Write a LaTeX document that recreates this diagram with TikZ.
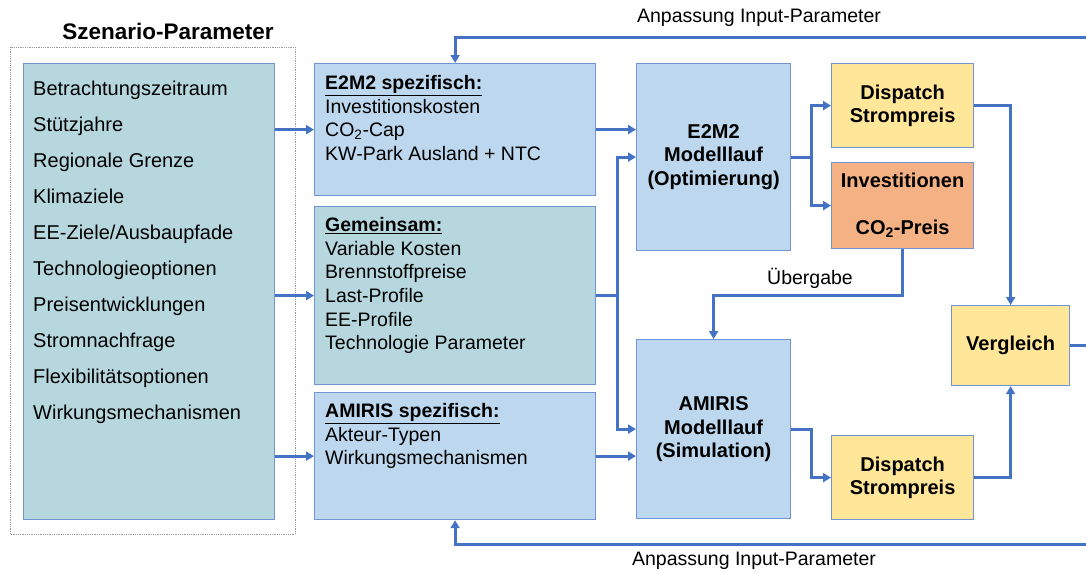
\documentclass[tikz,border=0pt]{standalone}
\usepackage{fontspec}
\setmainfont{Liberation Sans}
\usetikzlibrary{positioning}
\usetikzlibrary{calc}
\usetikzlibrary{arrows.meta}
\definecolor{linkblue}{RGB}{68,114,196}
\definecolor{edgeblue}{RGB}{112,148,212}
\definecolor{tealbox}{RGB}{183,215,222}
\definecolor{bluebox}{RGB}{189,215,238}
\definecolor{yellowbox}{RGB}{255,230,153}
\definecolor{orangebox}{RGB}{244,177,131}

\begin{document}
\begin{tikzpicture}[x=1pt,y=-1pt,>={Triangle[length=8pt,width=9pt]},
		box/.style={draw=edgeblue,line width=1.2pt,anchor=north west,inner sep=0pt},
		runtext/.style={align=center,font=\bfseries\fontsize{20}{23.5}\selectfont},
		listtext/.style={align=left,anchor=north west,inner sep=0pt,font=\fontsize{19.5}{23.7}\selectfont},
		plaintext/.style={inner sep=0pt,font=\fontsize{19.5}{23.5}\selectfont},
		link/.style={draw=linkblue,line width=3pt},
		conn/.style={->,link}]
		\useasboundingbox (0,0) rectangle (1086,573);
		\node[runtext,font=\bfseries\fontsize{22.5}{27}\selectfont] (title) at (168,31) {Szenario-Parameter};
		\draw[gray!80,densely dotted,line width=0.8pt] (10,47) rectangle (295,534);
		\node[box,fill=tealbox,minimum width=251pt,minimum height=456pt] (params) at (23,63) {};
		\node[listtext,font=\fontsize{20}{36}\selectfont] (paramlist) at (33,81) {Betrachtungszeitraum\\Stützjahre\\Regionale Grenze\\Klimaziele\\EE-Ziele/Ausbaupfade\\Technologieoptionen\\Preisentwicklungen\\Stromnachfrage\\Flexibilitätsoptionen\\Wirkungsmechanismen};
		\node[box,fill=bluebox,minimum width=281pt,minimum height=132pt] (e2m2spec) at (314,63) {};
		\node[listtext] (e2m2list) at (325,75) {\underline{\textbf{E2M2 spezifisch:}}\\Investitionskosten\\CO\textsubscript{2}-Cap\\KW-Park Ausland + NTC};
		\node[box,fill=tealbox,minimum width=281pt,minimum height=178pt] (common) at (314,206) {};
		\node[listtext] (commonlist) at (325,217) {\underline{\textbf{Gemeinsam:}}\\Variable Kosten\\Brennstoffpreise\\Last-Profile\\EE-Profile\\Technologie Parameter};
		\node[box,fill=bluebox,minimum width=281pt,minimum height=127pt] (amirisspec) at (314,392) {};
		\node[listtext] (amirislist) at (325,403) {\underline{\textbf{AMIRIS spezifisch:}}\\Akteur-Typen\\Wirkungsmechanismen};
		\node[box,fill=bluebox,minimum width=154pt,minimum height=187pt,runtext] (e2m2run) at (636,63) {E2M2\\Modelllauf\\(Optimierung)};
		\node[box,fill=bluebox,minimum width=154pt,minimum height=179pt,runtext] (amirisrun) at (636,339) {AMIRIS\\Modelllauf\\(Simulation)};
		\node[box,fill=yellowbox,minimum width=142pt,minimum height=84pt,runtext] (dispatchA) at (831,63) {Dispatch\\Strompreis};
		\node[box,fill=orangebox,minimum width=142pt,minimum height=86pt,runtext] (invest) at (831,162) {Investitionen\\[23.5pt]CO\textsubscript{2}-Preis};
		\node[box,fill=yellowbox,minimum width=142pt,minimum height=84pt,runtext] (dispatchB) at (831,435) {Dispatch\\Strompreis};
		\node[box,fill=yellowbox,minimum width=118pt,minimum height=80pt,runtext] (vergleich) at (951,305) {Vergleich};
		\coordinate (topedge) at (1086,37);
		\coordinate (bottomedge) at (1086,544);
		\draw[conn] (e2m2spec.west -| params.east) -- (e2m2spec.west);
		\draw[conn] (common.west -| params.east) -- (common.west);
		\draw[conn] (amirisspec.west -| params.east) -- (amirisspec.west);
		\draw[conn] (e2m2spec.east) -- (e2m2spec.east -| e2m2run.west);
		\draw[conn] (common.east) -- ++(21,0) |- (e2m2run.west);
		\draw[conn] (common.east) -- ++(21,0) |- (amirisrun.west);
		\draw[conn] (amirisspec.east) -- (amirisspec.east -| amirisrun.west);
		\draw[conn] (e2m2run.east) -- ++(20,0) |- (dispatchA.west);
		\draw[conn] (e2m2run.east) -- ++(20,0) |- (invest.west);
		\draw[conn] (invest.south) -- ++(0,46) -| (amirisrun.north);
		\node[plaintext] (handover) at (810,278) {Übergabe};
		\draw[conn] (amirisrun.east) -- ++(20,0) |- (dispatchB.west);
		\draw[conn] (dispatchA.east) -| (vergleich.north);
		\draw[conn] (dispatchB.east) -| (vergleich.south);
		\draw[link] (vergleich.east) -- (vergleich.east -| topedge);
		\draw[conn] (topedge) -| (e2m2spec.north);
		\draw[conn] (bottomedge) -| (amirisspec.south);
		\node[plaintext] (topnote) at (759,18) {Anpassung Input-Parameter};
		\node[plaintext] (bottomnote) at (754,561) {Anpassung Input-Parameter};
	\end{tikzpicture}
\end{document}
